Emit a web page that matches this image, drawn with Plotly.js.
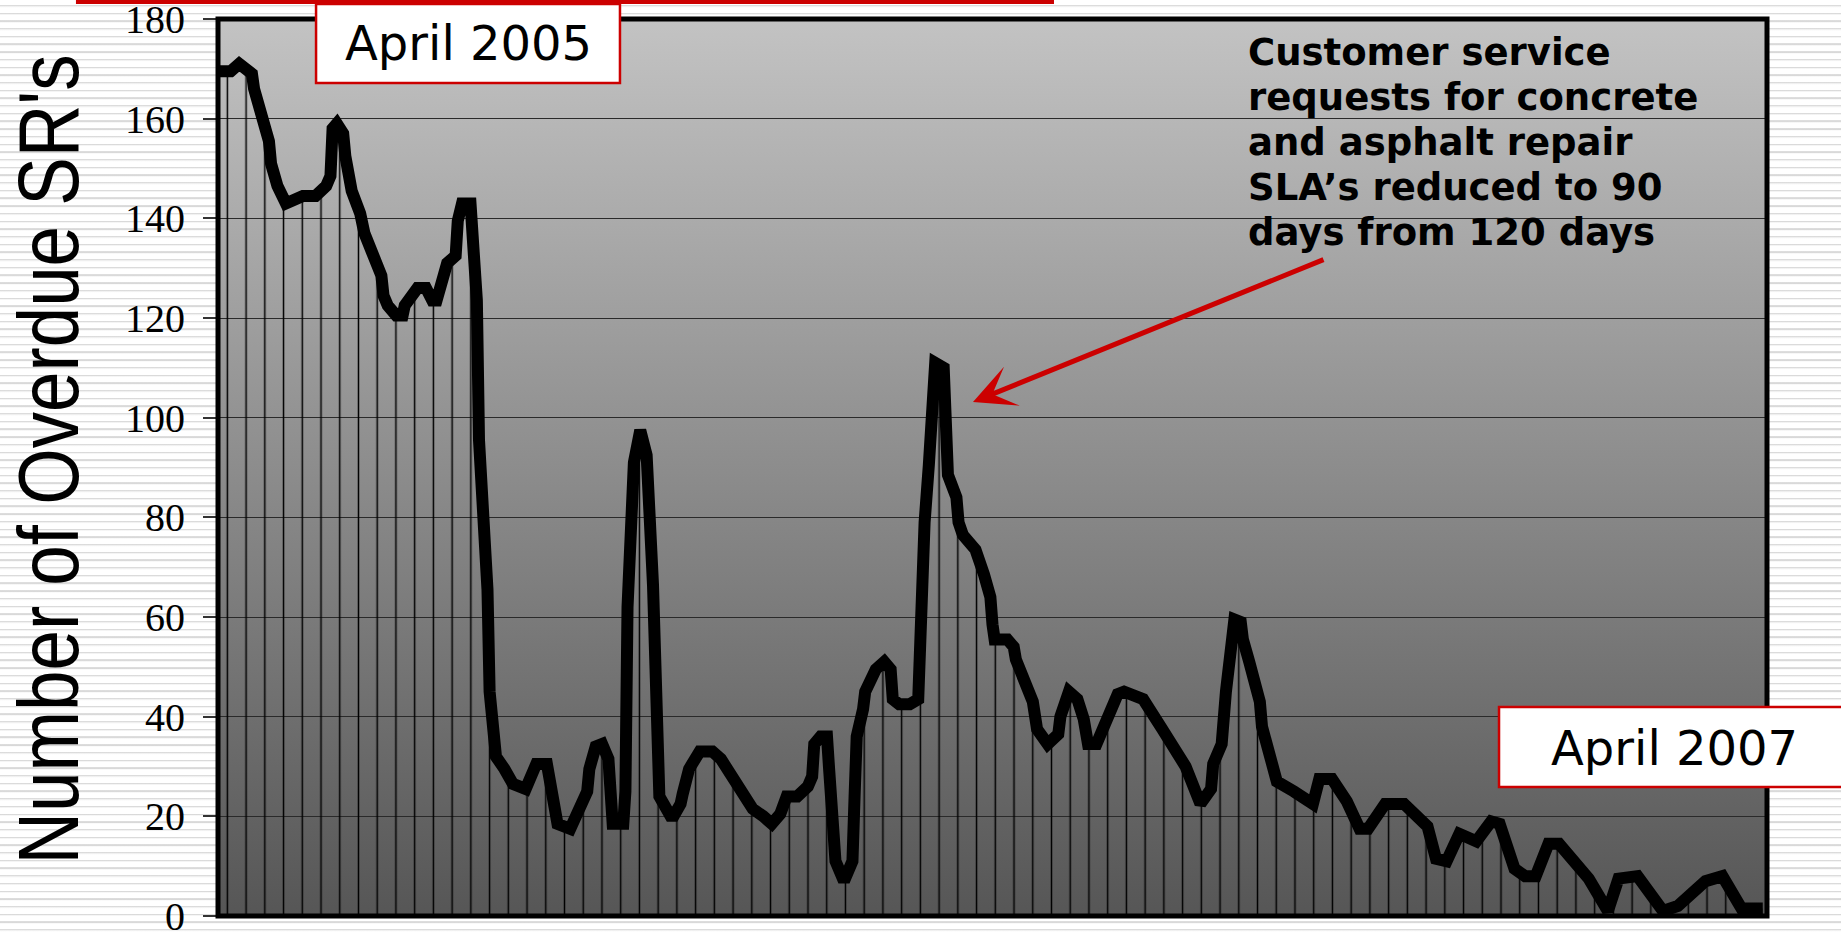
<!DOCTYPE html>
<html>
<head>
<meta charset="utf-8">
<script src="https://cdn.plot.ly/plotly-3.0.1.min.js"></script>
<style>
  html, body { margin:0; padding:0; width:1841px; height:934px; overflow:hidden;
    background: repeating-linear-gradient(to bottom, #ffffff 0px, #ffffff 5px, #dedede 5px, #d8d8d8 6.4px, #efefef 6.4px, #ffffff 7.7px); }
  #chart { width:1841px; height:934px; }
</style>
</head>
<body>
<div id="chart"></div>
<script>
const days = [
  0,6,10,16,17,20,24,25,28,32,
  40,46,51,53,54,56,59,60,63,67,
  69,77,78,80,84,87,88,94,98,101,
  103,108,112,113,114,115,119,120,122,123,
  125,127,128,131,135,139,145,150,155,160,
  166,168,174,175,178,181,184,185,186,191,
  192,193,196,199,202,205,206,208,214,218,
  219,222,227,233,237,243,252,257,261,265,
  266,268,273,278,280,281,284,287,288,290,
  291,295,299,300,301,304,305,310,314,317,
  318,321,326,330,331,333,335,336,338,342,
  343,344,348,349,351,357,361,364,365,366,
  372,375,376,383,384,386,391,396,397,401,
  405,408,410,414,419,424,427,433,436,445,
  456,463,468,469,473,475,477,479,482,483,
  486,491,492,499,507,516,519,525,532,538,
  542,550,559,570,574,579,585,593,600,604,
  611,616,621,627,632,646,655,660,669,681,
  688,701,709,718,728
];
// Number of overdue service requests
const overdueSRs = [
  169.5,169.5,171,169,166,162,155.5,151,146.5,143,
  144.5,144.5,146.5,148.5,158,159,157,152.5,145.5,141,
  137,128.5,124.5,122.5,120.5,120.5,122.5,126,126,123.5,
  123.5,131,132.5,139.5,141,143,143,134,123.5,95.5,
  80,65.5,45,32,29.5,26.5,25.5,30.5,30.5,18.5,
  17.5,19.5,25,29.5,34,34.5,31.5,25,18.5,18.5,
  25,62,91,97.5,92.5,66.5,41,24,19.5,22.5,
  24.5,29.5,33,33,31.5,27.5,21.5,20,18.5,20.5,
  22.5,24,24,26,28,34.5,36,36,29.5,19,
  11,7,11,24,36,41.5,45,49.5,51,49.5,
  43.5,42.5,42.5,43.5,58,79,90.5,100,111,110,
  100,88.5,84,79,76.5,73.5,68.5,64,58.5,55.5,
  55.5,54,51.5,45,43,37.5,34.5,36.5,40,45,
  43.5,39.5,34.5,34.5,39,44.5,45,44,43.5,37.5,
  30,22.5,25.5,30.5,34.5,45,55,59.5,59,55.5,
  51,43,38,27,25,22.5,27.5,27.5,23,17.5,
  17.5,22.5,22.5,18,11.5,11,16.5,15,19,18.5,
  9.5,8,8,14.5,14.5,7.5,1,7.5,8,1,
  2,7,8,1.5,1.5
];
const yTickValues = [0,20,40,60,80,100,120,140,160,180];
const yTickLabels = ['0','20','40','60','80','100','120','140','160','180'];
const yTitle = "Number of Overdue SR's";
const startLabel = 'April 2005';
const endLabel = 'April 2007';
const noteLines = ['Customer service', 'requests for concrete', 'and asphalt repair', 'SLA\u2019s reduced to 90', 'days from 120 days'];
const noteLineY = [0.9630, 0.9128, 0.8627, 0.8125, 0.7623];

const RED = '#cc0000';

const gradSvg = "<svg xmlns='http://www.w3.org/2000/svg' width='10' height='100' preserveAspectRatio='none'>" +
  "<defs><linearGradient id='g' x1='0' y1='0' x2='0' y2='1'>" +
  "<stop offset='0' stop-color='#c3c3c3'/><stop offset='1' stop-color='#565656'/>" +
  "</linearGradient></defs><rect x='0' y='0' width='10' height='100' fill='url(#g)'/></svg>";
const gradURI = 'data:image/svg+xml;base64,' + btoa(gradSvg);

const trace = {
  x: days,
  y: overdueSRs,
  type: 'scatter',
  mode: 'lines',
  line: { color: '#000000', width: 12 },
  fill: 'tozeroy',
  fillcolor: 'rgba(0,0,0,0)',
  fillpattern: { shape: '|', size: 18.73, solidity: 0.08, fgcolor: '#000000', bgcolor: 'rgba(0,0,0,0)', fgopacity: 1 },
  hoverinfo: 'skip'
};

const noteFont = { family: 'DejaVu Sans, Verdana, sans-serif', size: 37, color: '#000000', weight: 'bold' };
const noteAnnotations = noteLines.map((t, i) => ({
  xref: 'paper', yref: 'paper', x: 0.6637, y: noteLineY[i], xanchor: 'left', yanchor: 'middle',
  align: 'left', showarrow: false, text: t, font: noteFont
}));

const layout = {
  width: 1841, height: 934,
  margin: { l: 218, r: 74, t: 19, b: 18, pad: 0 },
  paper_bgcolor: 'rgba(0,0,0,0)',
  plot_bgcolor: 'rgba(0,0,0,0)',
  showlegend: false,
  xaxis: { range: [0, 730], showgrid: false, zeroline: false, showticklabels: false, ticks: '', showline: false, fixedrange: true },
  yaxis: {
    range: [0, 180], autorange: false, fixedrange: true,
    tickmode: 'array', tickvals: yTickValues, ticktext: yTickLabels,
    showgrid: true, gridcolor: '#2a2a2a', gridwidth: 1, zeroline: false,
    ticks: 'outside', ticklen: 14, tickwidth: 2, tickcolor: '#333333',
    tickfont: { family: 'Liberation Serif, Times New Roman, serif', size: 40, color: '#000000' },
    ticklabelstandoff: 10,
    ticklabeloverflow: 'allow',
    automargin: false,
    title: { text: yTitle, font: { family: 'Liberation Sans, Arial, sans-serif', size: 86, color: '#000000' }, standoff: 36 }
  },
  images: [{ source: gradURI, xref: 'paper', yref: 'paper', x: 0, y: 1, sizex: 1, sizey: 1,
             xanchor: 'left', yanchor: 'top', sizing: 'stretch', layer: 'below' }],
  shapes: [
    { type: 'rect', xref: 'paper', yref: 'paper', x0: 0, x1: 1, y0: 0, y1: 1, line: { color: '#000000', width: 5 }, fillcolor: 'rgba(0,0,0,0)', layer: 'above' },
    { type: 'rect', xref: 'paper', yref: 'paper', x0: -0.0917, x1: 0.5397, y0: 1.0167, y1: 1.03, line: { width: 0 }, fillcolor: RED, layer: 'above' },
    { type: 'rect', xref: 'paper', yref: 'paper', x0: 0.0633, x1: 0.2595, y0: 0.9287, y1: 1.0167, line: { color: RED, width: 2.5 }, fillcolor: '#ffffff', layer: 'above' },
    { type: 'rect', xref: 'paper', yref: 'paper', x0: 0.827, x1: 1.06, y0: 0.1438, y1: 0.233, line: { color: RED, width: 2.5 }, fillcolor: '#ffffff', layer: 'above' }
  ],
  annotations: [
    { xref: 'paper', yref: 'paper', x: 0.1614, y: 0.9727, xanchor: 'center', yanchor: 'middle', showarrow: false,
      text: startLabel, font: { family: 'DejaVu Sans, Verdana, sans-serif', size: 48, color: '#000000' } },
    { xref: 'paper', yref: 'paper', x: 0.9406, y: 0.1873, xanchor: 'center', yanchor: 'middle', showarrow: false,
      text: endLabel, font: { family: 'DejaVu Sans, Verdana, sans-serif', size: 48, color: '#000000' } },
    ...noteAnnotations,
    { xref: 'paper', yref: 'paper', x: 0.4874, y: 0.573, text: '', showarrow: true,
      ax: 352, ay: -143, axref: 'pixel', ayref: 'pixel',
      arrowcolor: RED, arrowwidth: 5, arrowhead: 3, arrowsize: 1.4, standoff: 0, startstandoff: 0 }
  ]
};

Plotly.newPlot('chart', [trace], layout, { displayModeBar: false, staticPlot: true }).then(() => {
  // the original axis title uses a condensed sans face: fit the real text into its measured length
  const t = document.querySelector('.ytitle');
  if (t) {
    t.setAttribute('textLength', '810');
    t.setAttribute('lengthAdjust', 'spacingAndGlyphs');
    // text runs upward after Plotly's -90 rotation, so dx moves it up the page
    t.setAttribute('dx', '8');
  }
});
</script>
</body>
</html>
